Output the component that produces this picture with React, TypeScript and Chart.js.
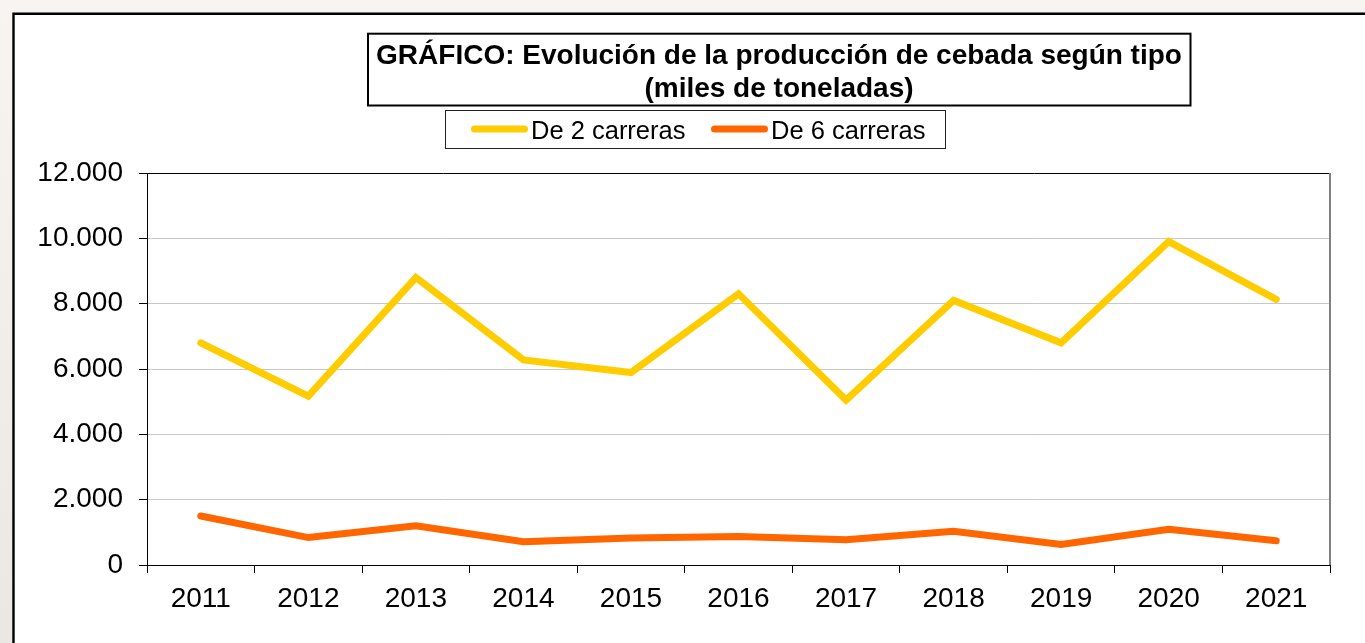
import React, { useEffect, useRef } from 'react';
import { Chart, registerables } from 'chart.js';

Chart.register(...registerables);

// ---- Data ----
const years = ['2011', '2012', '2013', '2014', '2015', '2016', '2017', '2018', '2019', '2020', '2021'];
const twoRow = [6800, 5170, 8800, 6280, 5890, 8300, 5050, 8100, 6800, 9900, 8130];
const sixRow = [1500, 840, 1200, 710, 830, 870, 770, 1030, 630, 1090, 740];
const seriesLabels = ['De 2 carreras', 'De 6 carreras'];
const seriesColors = ['#FFCC00', '#FF6600'];
const titleLines = ['GRÁFICO: Evolución de la producción de cebada según tipo', '(miles de toneladas)'];
const yMin = 0;
const yMax = 12000;
const yStep = 2000;

const W = 1365;
const H = 643;
const FONT = '"Liberation Sans", Arial, Helvetica, sans-serif';

const fmt = (v: number) => String(Math.round(v)).replace(/\B(?=(\d{3})+(?!\d))/g, '.');

const decorPlugin = {
  id: 'decor',
  beforeDraw(chart: any) {
    const ctx = chart.ctx as CanvasRenderingContext2D;
    ctx.save();
    // page background outside the frame
    const g = ctx.createLinearGradient(0, 0, 0, H);
    g.addColorStop(0, '#f8f4f1');
    g.addColorStop(1, '#ebe7e3');
    ctx.fillStyle = g;
    ctx.fillRect(0, 0, W, H);
    ctx.fillStyle = '#ffffff';
    ctx.fillRect(13, 13, W - 13, H - 13);
    // frame
    ctx.strokeStyle = '#000';
    ctx.lineWidth = 2.4;
    ctx.beginPath();
    ctx.moveTo(13.5, H + 5);
    ctx.lineTo(13.5, 13.7);
    ctx.lineTo(W + 5, 13.7);
    ctx.stroke();

    // title box
    ctx.lineWidth = 2;
    ctx.strokeRect(368, 33.7, 822.5, 71.8);
    ctx.fillStyle = '#000';
    ctx.font = `bold 28px ${FONT}`;
    ctx.textAlign = 'center';
    ctx.textBaseline = 'alphabetic';
    ctx.fillText(titleLines[0], 779, 63.5);
    ctx.fillText(titleLines[1], 779, 96.5);

    // legend box
    ctx.lineWidth = 1;
    ctx.strokeStyle = '#222';
    ctx.strokeRect(445.5, 110.5, 500, 38);
    const ds = chart.data.datasets;
    const itemX = [471, 711];
    ctx.font = `25.5px ${FONT}`;
    ctx.textAlign = 'left';
    ds.forEach((d: any, i: number) => {
      const x0 = itemX[i];
      ctx.strokeStyle = d.borderColor;
      ctx.lineWidth = 7;
      ctx.lineCap = 'round';
      ctx.beginPath();
      ctx.moveTo(x0 + 3.5, 129);
      ctx.lineTo(x0 + 53.5, 129);
      ctx.stroke();
      ctx.fillStyle = '#000';
      ctx.fillText(d.label, x0 + 60, 138.5);
    });
    ctx.restore();
  },
  afterDraw(chart: any) {
    const ctx = chart.ctx as CanvasRenderingContext2D;
    const a = chart.chartArea;
    ctx.save();
    ctx.strokeStyle = '#808080';
    ctx.lineWidth = 2;
    ctx.beginPath();
    ctx.moveTo(a.right, a.top);
    ctx.lineTo(a.right, a.bottom);
    ctx.stroke();
    ctx.restore();
  },
};

export default function App() {
  const ref = useRef<HTMLCanvasElement | null>(null);

  useEffect(() => {
    if (!ref.current) return;
    const chart = new Chart(ref.current, {
      type: 'line',
      data: {
        labels: years,
        datasets: [
          {
            label: seriesLabels[0],
            data: twoRow,
            borderColor: seriesColors[0],
            backgroundColor: seriesColors[0],
            borderWidth: 7,
            borderCapStyle: 'round',
            borderJoinStyle: 'miter',
            pointRadius: 0,
            tension: 0,
            fill: false,
          },
          {
            label: seriesLabels[1],
            data: sixRow,
            borderColor: seriesColors[1],
            backgroundColor: seriesColors[1],
            borderWidth: 7,
            borderCapStyle: 'round',
            borderJoinStyle: 'miter',
            pointRadius: 0,
            tension: 0,
            fill: false,
          },
        ],
      },
      options: {
        animation: false,
        responsive: false,
        maintainAspectRatio: false,
        devicePixelRatio: 1,
        layout: { padding: { top: 173, right: 35, left: 0, bottom: 0 } },
        plugins: {
          legend: { display: false },
          title: { display: false },
          tooltip: { enabled: false },
        },
        scales: {
          x: {
            type: 'category',
            offset: true,
            grid: {
              offset: true,
              drawOnChartArea: false,
              drawTicks: true,
              tickLength: 8,
              color: '#000',
              tickColor: '#000',
            },
            border: { color: '#000', width: 1 },
            ticks: {
              color: '#000',
              font: { family: FONT, size: 28 },
              padding: 9,
              maxRotation: 0,
              autoSkip: false,
            },
            afterFit: (s: any) => {
              s.height = 78;
            },
          },
          y: {
            min: yMin,
            max: yMax,
            ticks: {
              stepSize: yStep,
              color: '#000',
              font: { family: FONT, size: 28 },
              padding: 16,
              callback: (v: any) => fmt(Number(v)),
            },
            grid: {
              color: (c: any) => (c.tick && c.tick.value === yMax ? '#000' : '#c8c8c8'),
              tickColor: '#000',
              tickLength: 8,
              lineWidth: 1,
            },
            border: { color: '#000', width: 1 },
            afterFit: (s: any) => {
              s.width = 147;
            },
          },
        },
      },
      plugins: [decorPlugin],
    } as any);
    return () => chart.destroy();
  }, []);

  return (
    <div style={{ position: 'fixed', left: 0, top: 0, width: W, height: H }}>
      <canvas ref={ref} width={W} height={H} style={{ display: 'block', width: W, height: H }} />
    </div>
  );
}
